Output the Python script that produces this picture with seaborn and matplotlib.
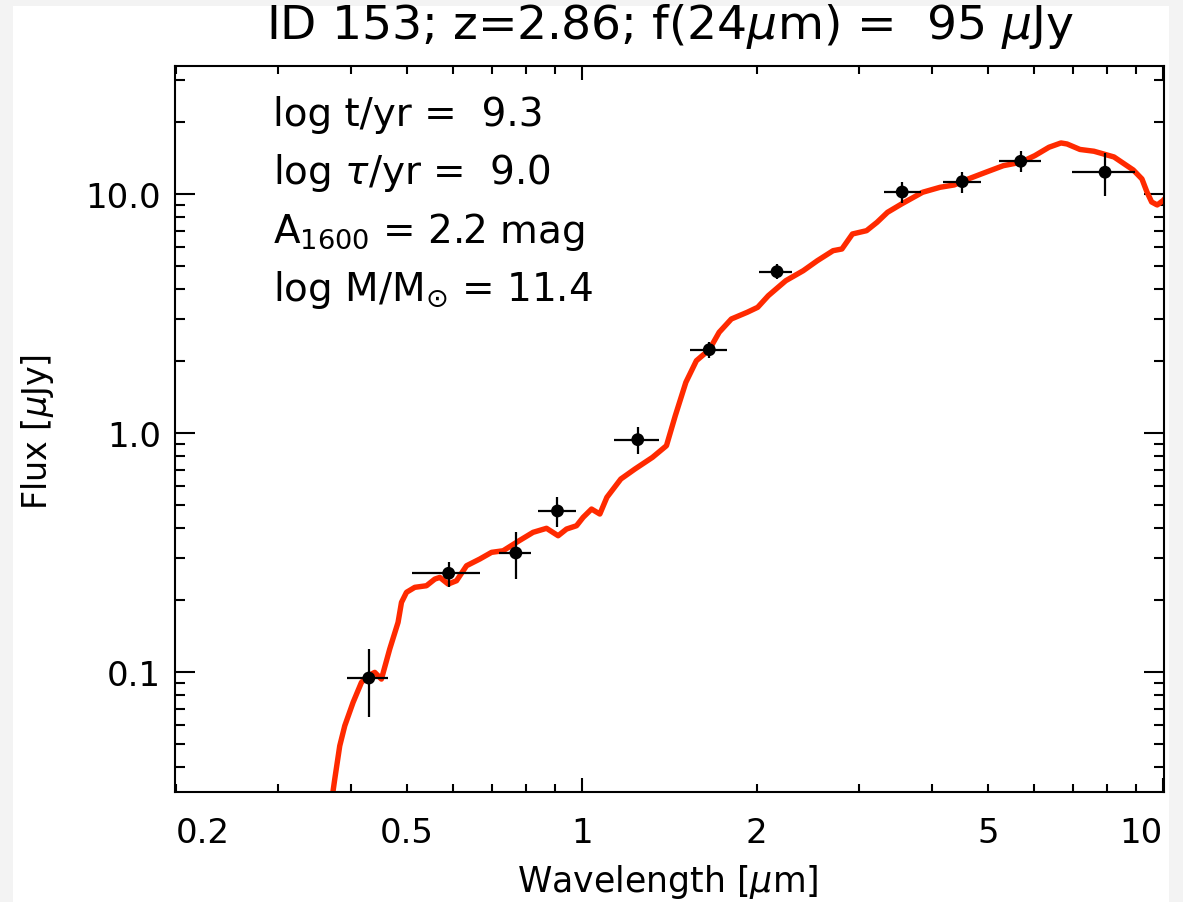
import numpy as np
import matplotlib
matplotlib.use("Agg")
import matplotlib.pyplot as plt
from matplotlib.patches import Rectangle
from matplotlib.ticker import FixedLocator, FixedFormatter
import seaborn as sns

# Best-fit stellar population model, observed frame (wavelength in micron, flux in microJy)
model_wave = [0.3698, 0.3757, 0.3832, 0.3909, 0.4040, 0.4176, 0.4287, 0.4402, 0.4520, 0.4671,
              0.4828, 0.4894, 0.4992, 0.5159, 0.5403, 0.5585, 0.5697, 0.5888, 0.6086, 0.6333,
              0.6675, 0.6992, 0.7320, 0.7720, 0.8243, 0.8694, 0.9104, 0.9412, 0.9792, 1.0052,
              1.0392, 1.0739, 1.1043, 1.1670, 1.2339, 1.3229, 1.3983, 1.4481, 1.5101, 1.5744,
              1.6568, 1.7230, 1.8083, 1.9254, 2.0073, 2.0934, 2.2436, 2.4045, 2.5425, 2.7060,
              2.8024, 2.9216, 3.0897, 3.2207, 3.3574, 3.5490, 3.8584, 4.1352, 4.3731, 4.6228,
              4.9545, 5.3125, 5.6930, 6.0173, 6.3653, 6.6750, 6.8365, 7.1967, 7.6068, 8.2355,
              8.8894, 9.2000, 9.3840, 9.5607, 9.7743, 10.012, 10.20]
model_flux = [0.02723, 0.03566, 0.04914, 0.05961, 0.07467, 0.09055, 0.09650, 0.09970, 0.09347, 0.1248,
              0.1614, 0.1957, 0.2156, 0.2262, 0.2297, 0.2449, 0.2489, 0.2334, 0.2410, 0.2785,
              0.2971, 0.3168, 0.3217, 0.3489, 0.3842, 0.3994, 0.3718, 0.3966, 0.4094, 0.4439,
              0.4808, 0.4582, 0.5383, 0.6420, 0.7067, 0.7910, 0.8849, 1.1816, 1.6298, 2.0068,
              2.2309, 2.6384, 2.9992, 3.1989, 3.3567, 3.7540, 4.3371, 4.7762, 5.2591, 5.7909,
              5.8862, 6.8014, 7.0214, 7.6120, 8.3810, 9.0807, 10.166, 10.666, 10.907, 11.556,
              12.323, 13.132, 13.569, 14.463, 15.682, 16.345, 16.187, 15.353, 15.091, 14.282,
              12.599, 11.556, 10.195, 9.2563, 8.9950, 9.4019, 9.90]

# Observed photometry (B V i z J H K, IRAC 3.6 4.5 5.8 8.0)
phot_wave = [0.430, 0.590, 0.770, 0.908, 1.248, 1.657, 2.167, 3.558, 4.514, 5.691, 7.949]
phot_wave_lo = [0.394, 0.511, 0.719, 0.842, 1.138, 1.533, 2.021, 3.311, 4.181, 5.225, 6.966]
phot_wave_hi = [0.464, 0.668, 0.818, 0.976, 1.356, 1.776, 2.300, 3.832, 4.853, 6.171, 8.946]
phot_flux = [0.0944, 0.259, 0.315, 0.472, 0.938, 2.231, 4.73, 10.19, 11.26, 13.70, 12.33]
phot_flux_lo = [0.0649, 0.228, 0.246, 0.406, 0.817, 2.054, 4.41, 9.17, 10.10, 12.33, 9.84]
phot_flux_hi = [0.125, 0.289, 0.384, 0.538, 1.056, 2.396, 5.09, 11.19, 12.40, 15.18, 14.84]

# Axis ticks
x_major = [1, 10]
x_major_labels = ["1", "10"]
x_minor = [0.2, 0.3, 0.4, 0.5, 0.6, 0.7, 0.8, 0.9, 2, 3, 4, 5, 6, 7, 8, 9]
x_minor_labels = ["0.2", "", "", "0.5", "", "", "", "", "2", "", "", "5", "", "", "", ""]
y_major = [0.1, 1.0, 10.0]
y_major_labels = ["0.1", "1.0", "10.0"]
y_minor = [0.04, 0.05, 0.06, 0.07, 0.08, 0.09, 0.2, 0.3, 0.4, 0.5, 0.6, 0.7, 0.8, 0.9,
           2, 3, 4, 5, 6, 7, 8, 9, 20, 30]

title = r"ID 153; z=2.86; f(24$\mu$m) =  95 $\mu$Jy"
fit_lines = [r"log t/yr =  9.3",
             r"log $\tau$/yr =  9.0",
             r"A$_{1600}$ = 2.2 mag",
             r"log M/M$_{\odot}$ = 11.4"]

sns.set_theme(style="white")
plt.rcParams["font.family"] = ["DejaVu Sans"]
plt.rcParams["mathtext.fontset"] = "dejavusans"
plt.rcParams["axes.linewidth"] = 1.5
for key in ["text.color", "axes.labelcolor", "xtick.color", "ytick.color",
            "xtick.labelcolor", "ytick.labelcolor", "axes.edgecolor"]:
    plt.rcParams[key] = "black"

W, H = 1183, 903
fig = plt.figure(figsize=(W / 100, H / 100), dpi=100, facecolor="#f3f3f3")
fig.add_artist(Rectangle((13 / W, 0), (1169 - 13) / W, (H - 7) / H,
                         transform=fig.transFigure, facecolor="white",
                         edgecolor="none", zorder=-10))

ax_l, ax_r, ax_t, ax_b = 175, 1164, 67, 793
ax = fig.add_axes([ax_l / W, (H - ax_b) / H, (ax_r - ax_l) / W, (ax_b - ax_t) / H])
ax.set_facecolor("white")
ax.set_xscale("log")
ax.set_yscale("log")

sns.lineplot(x=model_wave, y=model_flux, ax=ax, color="#ff2a00", lw=3.9,
             sort=False, estimator=None, zorder=2)

pw = np.array(phot_wave)
pf = np.array(phot_flux)
ax.errorbar(pw, pf,
            xerr=[pw - np.array(phot_wave_lo), np.array(phot_wave_hi) - pw],
            yerr=[pf - np.array(phot_flux_lo), np.array(phot_flux_hi) - pf],
            fmt="none", ecolor="black", elinewidth=1.6, capsize=0, zorder=4)
sns.scatterplot(x=phot_wave, y=phot_flux, ax=ax, color="black", s=85,
                edgecolor="none", zorder=5)

ax.set_xlim(0.1995, 10.04)
ax.set_ylim(0.0315, 34.3)

ax.xaxis.set_major_locator(FixedLocator(x_major))
ax.xaxis.set_major_formatter(FixedFormatter(x_major_labels))
ax.xaxis.set_minor_locator(FixedLocator(x_minor))
ax.xaxis.set_minor_formatter(FixedFormatter(x_minor_labels))
ax.yaxis.set_major_locator(FixedLocator(y_major))
ax.yaxis.set_major_formatter(FixedFormatter(y_major_labels))
ax.yaxis.set_minor_locator(FixedLocator(y_minor))
ax.yaxis.set_minor_formatter(FixedFormatter([""] * len(y_minor)))

ax.tick_params(which="both", direction="in", top=True, right=True,
               bottom=True, left=True, color="black", width=1.5)
ax.tick_params(axis="x", which="major", length=10, labelsize=24.5, pad=17)
ax.tick_params(axis="x", which="minor", length=5.5, labelsize=24.5, pad=17)
ax.tick_params(axis="y", which="major", length=14.4, labelsize=24.5, pad=10)
ax.tick_params(axis="y", which="minor", length=7.2)

for sp in ax.spines.values():
    sp.set_color("black")
    sp.set_linewidth(1.5)

ax.set_xlabel(r"Wavelength [$\mu$m]", fontsize=25)
ax.set_ylabel(r"Flux [$\mu$Jy]", fontsize=24)
ax.xaxis.set_label_coords((668 - ax_l) / (ax_r - ax_l), (ax_b - 882) / (ax_b - ax_t))
ax.yaxis.set_label_coords((37 - ax_l) / (ax_r - ax_l), (ax_b - 432) / (ax_b - ax_t))
ax.xaxis.label.set_va("center")
ax.yaxis.label.set_va("center")

ax.set_title(title, fontsize=34, y=1 + (ax_t - 35) / (ax_b - ax_t), va="center")

for txt, yp in zip(fit_lines, [115, 173, 232, 290]):
    ax.text((273 - ax_l) / (ax_r - ax_l), (ax_b - yp) / (ax_b - ax_t), txt,
            transform=ax.transAxes, fontsize=28, ha="left", va="center")

fig.canvas.draw()
for lbl in ax.get_xticklabels(minor=True):
    if lbl.get_text() == "0.2":
        lbl.set_ha("left")
for lbl in ax.get_xticklabels():
    if lbl.get_text() == "10":
        lbl.set_ha("right")

fig.savefig("out.png", dpi=100, facecolor=fig.get_facecolor())
